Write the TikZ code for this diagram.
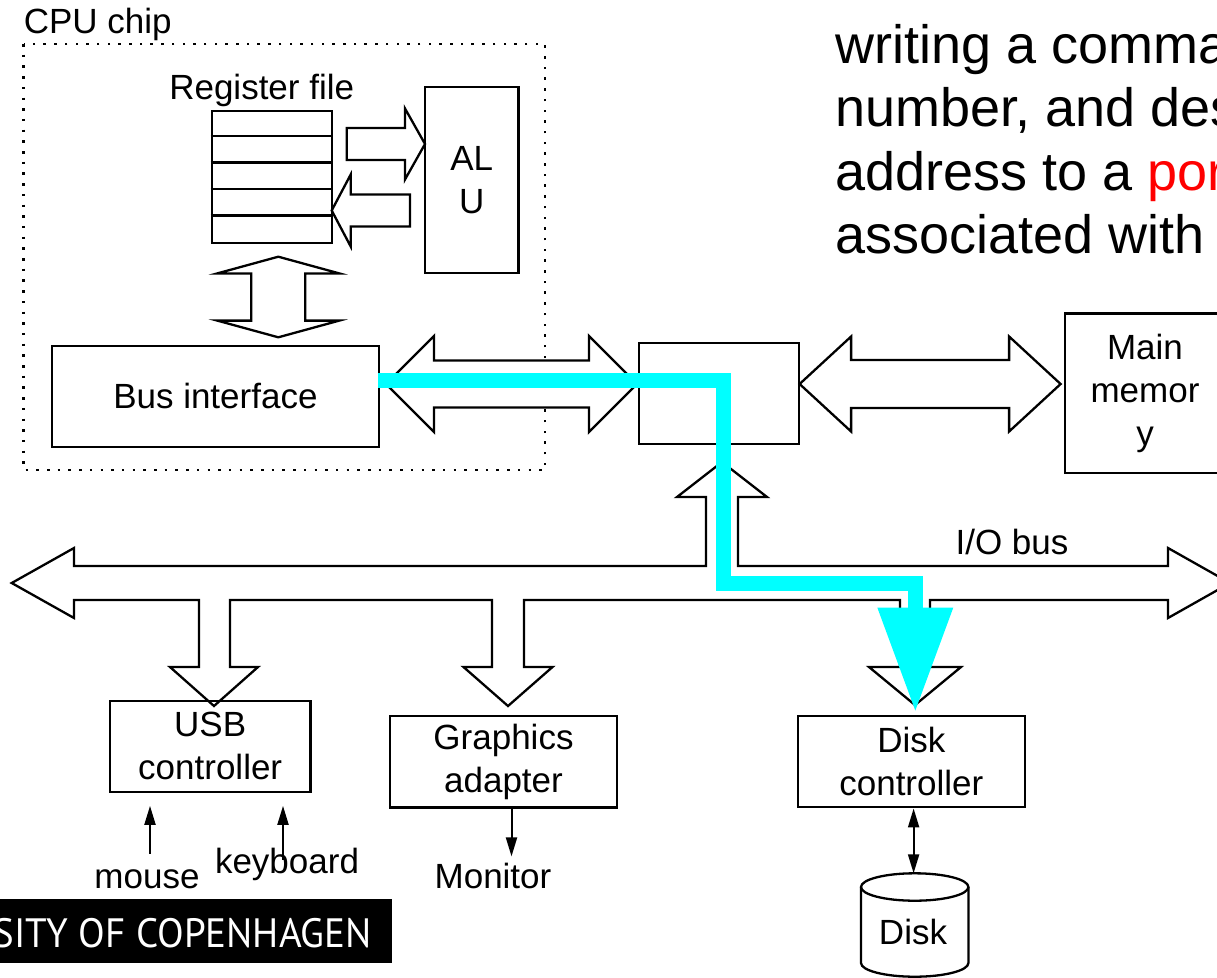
\documentclass[tikz,border=0pt]{standalone}
\usepackage{fontspec}
\setmainfont{Liberation Sans}
\newfontfamily\kufont{PT Sans}
\usetikzlibrary{arrows.meta, positioning}
\definecolor{flowcyan}{RGB}{0,255,255}
\definecolor{portred}{RGB}{255,0,0}
\newcommand{\diagfont}{\fontsize{35}{43}\selectfont}
\newcommand{\slidefont}{\fontsize{54}{64}\selectfont}
\tikzstyle{box} = [rectangle, draw=black, line width=2.3pt, inner sep=0pt, align=center, font=\diagfont]
\tikzstyle{tag} = [inner sep=0pt, font=\diagfont]
\tikzstyle{slideline} = [anchor=base west, inner sep=0pt, font=\slidefont]
\tikzstyle{blockarrow} = [draw=black, fill=white, line width=2.3pt, line join=miter]
\tikzstyle{thinarrow} = [line width=2pt, -{Triangle[length=19pt, width=11pt]}]
\tikzstyle{thinboth} = [line width=2pt, {Triangle[length=19pt, width=11pt]}-{Triangle[length=19pt, width=11pt]}]
\tikzstyle{ioflow} = [draw=flowcyan, line width=15pt, -{Triangle[length=103pt, width=76pt, line width=0pt]}]
% horizontal block arrow: tail x, tip x, centre y, half shaft, half head, head length (signed)
\newcommand{\harrow}[6]{\draw[blockarrow] (#1,{#3-#4}) -- ({#2-(#6)},{#3-#4}) -- ({#2-(#6)},{#3-#5}) -- (#2,#3) -- ({#2-(#6)},{#3+#5}) -- ({#2-(#6)},{#3+#4}) -- (#1,{#3+#4}) -- cycle;}
% horizontal double block arrow: left tip, right tip, centre y, half shaft, half head, head length
\newcommand{\hdarrow}[6]{\draw[blockarrow] (#1,#3) -- ({#1+#6},{#3-#5}) -- ({#1+#6},{#3-#4}) -- ({#2-#6},{#3-#4}) -- ({#2-#6},{#3-#5}) -- (#2,#3) -- ({#2-#6},{#3+#5}) -- ({#2-#6},{#3+#4}) -- ({#1+#6},{#3+#4}) -- ({#1+#6},{#3+#5}) -- cycle;}
% vertical double block arrow: centre x, top tip, bottom tip, half shaft, half head, head length
\newcommand{\vdarrow}[6]{\draw[blockarrow] (#1,#2) -- ({#1+#5},{#2+#6}) -- ({#1+#4},{#2+#6}) -- ({#1+#4},{#3-#6}) -- ({#1+#5},{#3-#6}) -- (#1,#3) -- ({#1-#5},{#3-#6}) -- ({#1-#4},{#3-#6}) -- ({#1-#4},{#2+#6}) -- ({#1-#5},{#2+#6}) -- cycle;}

\begin{document}
\begin{tikzpicture}[x=1pt, y=-1pt]
\useasboundingbox (0,0) rectangle (1217,977);
\clip (0,0) rectangle (1217,977);
\fill[white] (0,0) rectangle (1217,977);

% CPU chip
\draw[line width=2.5pt, dash pattern=on 2.5pt off 8.2pt] (23.6,44) rectangle (545,470);
\node (cpulabel) [tag, anchor=base west] at (23.6,33) {CPU chip};

\node (regs) [box, minimum width=120pt, minimum height=132.6pt] at (271.7,177) {};
\foreach \i in {1,...,4}
  \draw[line width=2.3pt] ([yshift=-\i*26.52pt]regs.north west) -- ([yshift=-\i*26.52pt]regs.north east);
\node (reglabel) [tag, above=3pt of regs, xshift=-10pt] {Register file};

\node (alu) [box, minimum width=93.3pt, minimum height=186pt] at (471.7,180.3) {AL\\U};
\node (busif) [box, minimum width=327.2pt, minimum height=100.7pt] at (215.4,396.3) {Bus interface};
\node (bridge) [box, minimum width=160pt, minimum height=101pt] at (719,393.5) {};
\node (mem) [box, minimum width=160pt, minimum height=159.8pt] at (1145,393.4) {Main\\memor\\y};

\harrow{346.7}{425}{144}{16}{35.5}{20}
\harrow{410}{331.7}{210.5}{16}{36}{-19}
\vdarrow{278.3}{256.7}{337.3}{27}{61}{16.7}
\hdarrow{386}{637}{384}{23.5}{48}{48}
\hdarrow{799.6}{1060.6}{384}{24}{47.5}{51.5}

% I/O bus with its branches
\draw[blockarrow] (11.7,583) -- (74,548) -- (74,566) -- (706,566) -- (706,497) -- (677,497) -- (722,462)
  -- (767,497) -- (738,497) -- (738,566) -- (1168,566) -- (1168,548) -- (1230,583) -- (1168,618)
  -- (1168,600) -- (930,600) -- (930,667) -- (961,667) -- (915,705) -- (869,667) -- (900,667)
  -- (900,600) -- (524,600) -- (524,667) -- (552.5,667) -- (508,706) -- (463.5,667) -- (492,667)
  -- (492,600) -- (230,600) -- (230,667) -- (258,667) -- (214,706) -- (170,667) -- (199,667)
  -- (199,600) -- (74,600) -- (74,618) -- cycle;
\node (iobus) [tag, anchor=base] at (1012,554) {I/O bus};

\node (usb) [box, minimum width=200.4pt, minimum height=91pt] at (210.2,746.2) {USB\\controller};
\node (gfx) [box, minimum width=226.5pt, minimum height=91.3pt] at (503.5,761.7) {Graphics\\adapter};
\node (diskctl) [box, minimum width=227pt, minimum height=91.6pt] at (911.3,761.5) {Disk\\controller};

% disk
\draw[line width=2.3pt, fill=white] (861,887) -- (861,963) arc[start angle=180, end angle=360, x radius=53.7pt, y radius=13.7pt] -- (968.4,887);
\draw[line width=2.3pt] (914.7,887) ellipse [x radius=53.7pt, y radius=13.7pt];
\node (disk) [tag, anchor=base] at (913,944) {Disk};
\coordinate (disktop) at (913.6,873.3);

\node (mouse) [tag, anchor=base] at (147,888) {mouse};
\node (kbd) [tag, anchor=base] at (287,873.3) {keyboard};
\node (monitor) [tag, anchor=base] at (493,888) {Monitor};
\coordinate (mousetail) at ([xshift=3pt, yshift=15pt]mouse.north);
\coordinate (kbdtail) at ([xshift=-4pt, yshift=-12pt]kbd.north);
\coordinate (gfxout) at ([xshift=8pt]gfx.south);

\draw[thinarrow, shorten >=13pt] (mousetail) -- (mousetail |- usb.south);
\draw[thinarrow, shorten >=13pt] (kbdtail) -- (kbdtail |- usb.south);
\draw[thinarrow, shorten >=6pt] (gfxout) -- (gfxout |- monitor.north);
\draw[thinboth] (disktop |- diskctl.south) -- (disktop);

% path of the read command
\draw[ioflow] ([xshift=-2pt, yshift=16pt]busif.east) -| (723,583) -| ([xshift=4pt, yshift=4pt]diskctl.north);

% slide text
\node (line1) [slideline] at (835,63) {writing a command, logical block};
\node (line2) [slideline] at (835,126.5) {number, and destination memory};
\node (line3) [slideline] at (835,190) {address to a \textcolor{portred}{port} (address)};
\node (line4) [slideline] at (835,253.5) {associated with disk controller.};

% footer
\fill[black] (0,899) rectangle (391.5,963.3);
\node (banner) [anchor=base east, inner sep=0pt, text=white, font=\kufont\fontsize{41}{48}\selectfont] at (372,947.3) {\scalebox{0.95}[1]{UNIVERSITY OF COPENHAGEN}};
\end{tikzpicture}
\end{document}
